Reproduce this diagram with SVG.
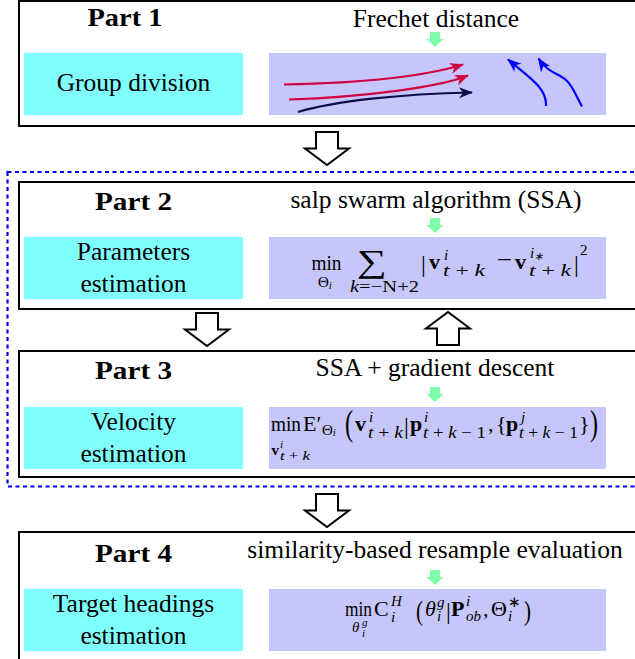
<svg xmlns="http://www.w3.org/2000/svg" width="635" height="659" viewBox="0 0 635 659">
<style>
text{font-family:"Liberation Serif","Times New Roman",Times,serif;fill:#000}
.lbl{font-size:25.5px;text-anchor:middle}
.part{font-size:25px;font-weight:bold;text-anchor:middle}
.box{fill:#fff;stroke:#000;stroke-width:2}
.cy{fill:#80ffff}
.pu{fill:#c6c6fa}
.gr{fill:#80ffaa}
.ha{fill:#fff;stroke:#000;stroke-width:2}
.m{font-size:22px}
.s{font-size:15px}
.sc{font-size:16px}
.ss{font-size:11px}
.big{font-size:36px}
.bar{font-size:24px}
.i{font-style:italic}
.b{font-weight:bold}
.traj{fill:none;stroke-width:2.2}
</style>
<defs>
<path id="garrow" d="M-5,-15 H5 V-8 H8.5 L0,0 L-8.5,-8 H-5 Z"/>
<path id="harrow" d="M-11,-33 H11 V-16.5 H22 L0,0 L-22,-16.5 H-11 Z"/>
<marker id="mr" viewBox="-14 -6 16 12" refX="0" refY="0" markerWidth="16" markerHeight="12" markerUnits="userSpaceOnUse" orient="auto"><path d="M1,0 L-13,-5.5 L-9,0 L-13,5.5 Z" fill="#d0003c"/></marker>
<marker id="mn" viewBox="-14 -6 16 12" refX="0" refY="0" markerWidth="16" markerHeight="12" markerUnits="userSpaceOnUse" orient="auto"><path d="M1,0 L-13,-5.5 L-9,0 L-13,5.5 Z" fill="#0c0c4a"/></marker>
<marker id="mb" viewBox="-14 -6 16 12" refX="0" refY="0" markerWidth="16" markerHeight="12" markerUnits="userSpaceOnUse" orient="auto"><path d="M1,0 L-13,-5.5 L-9,0 L-13,5.5 Z" fill="#0000ff"/></marker>
</defs>

<rect x="7.5" y="172" width="640" height="314.5" fill="none" stroke="#0000ee" stroke-width="2.2" stroke-dasharray="4 3.5"/>

<g id="part1">
<rect class="box" x="19" y="1" width="630" height="125"/>
<text class="part" x="125" y="26" textLength="75" lengthAdjust="spacingAndGlyphs">Part 1</text>
<text class="lbl" x="436" y="26.5">Frechet distance</text>
<use href="#garrow" class="gr" x="435" y="47"/>
<rect class="cy" x="24" y="53" width="219" height="62"/>
<text class="lbl" x="133.5" y="91">Group division</text>
<rect class="pu" x="269" y="53" width="337" height="62"/>
<path class="traj" stroke="#d0003c" d="M284,84.5 C360,83 420,78 463,64.5" marker-end="url(#mr)"/>
<path class="traj" stroke="#d0003c" d="M289,99.5 C365,97 440,87 468,75.5" marker-end="url(#mr)"/>
<path class="traj" stroke="#0c0c4a" d="M298,112 C335,101 400,94 472,92.5" marker-end="url(#mn)"/>
<path class="traj" stroke="#0000ff" d="M546,106 C547,88 530,78 508,59.5" marker-end="url(#mb)"/>
<path class="traj" stroke="#0000ff" d="M582,106.5 C576,96 573,86 566,80 C558,73 548,73 538.5,58.5" marker-end="url(#mb)"/>
</g>

<g id="part2">
<rect class="box" x="19" y="182" width="630" height="127"/>
<text class="part" x="133.5" y="210" textLength="77" lengthAdjust="spacingAndGlyphs">Part 2</text>
<text class="lbl" x="436" y="207.5">salp swarm algorithm (SSA)</text>
<use href="#garrow" class="gr" x="435" y="233"/>
<rect class="cy" x="24" y="237" width="219" height="62"/>
<text class="lbl" x="133.5" y="260">Parameters</text>
<text class="lbl" x="133.5" y="292">estimation</text>
<rect class="pu" x="269" y="237" width="337" height="62"/>
<text class="m" x="311.5" y="270" textLength="30" lengthAdjust="spacingAndGlyphs">min</text>
<text class="s" x="318" y="287">Θ<tspan class="ss i" dy="2">i</tspan></text>
<text x="357" y="272" style="font-size:32px" textLength="30" lengthAdjust="spacingAndGlyphs">∑</text>
<text class="sc" x="350" y="292" textLength="69" lengthAdjust="spacingAndGlyphs"><tspan class="i">k</tspan>=−N+2</text>
<text class="bar" x="421" y="272">|</text>
<text class="m b" x="429" y="269">v</text>
<text class="s i" x="444" y="260">i</text>
<text class="sc" x="443" y="276" textLength="42" lengthAdjust="spacingAndGlyphs"><tspan class="i">t</tspan> + <tspan class="i">k</tspan></text>
<text class="m" x="497" y="267" textLength="15" lengthAdjust="spacingAndGlyphs">−</text>
<text class="m b" x="515" y="269">v</text>
<text class="s i" x="530" y="258">i<tspan class="ss" dy="2">∗</tspan></text>
<text class="sc" x="529" y="276" textLength="42" lengthAdjust="spacingAndGlyphs"><tspan class="i">t</tspan> + <tspan class="i">k</tspan></text>
<text class="bar" x="574" y="272">|</text>
<text class="s" x="580" y="255">2</text>
</g>

<g id="part3">
<rect class="box" x="19" y="351" width="630" height="126"/>
<text class="part" x="133.5" y="379" textLength="77" lengthAdjust="spacingAndGlyphs">Part 3</text>
<text class="lbl" x="435" y="376">SSA + gradient descent</text>
<use href="#garrow" class="gr" x="435" y="402"/>
<rect class="cy" x="24" y="407" width="219" height="62"/>
<text class="lbl" x="133.5" y="430">Velocity</text>
<text class="lbl" x="133.5" y="461.5">estimation</text>
<rect class="pu" x="269" y="407" width="337" height="62"/>
<text class="m" x="271" y="431" textLength="30" lengthAdjust="spacingAndGlyphs">min</text>
<text class="s b" x="271.5" y="455">v</text>
<text class="ss i" x="280" y="448">i</text>
<text x="280" y="460" style="font-size:12px" textLength="30" lengthAdjust="spacingAndGlyphs"><tspan class="i">t</tspan> + <tspan class="i">k</tspan></text>
<text class="m" x="303" y="431">E′</text>
<text class="s" x="322" y="435">Θ<tspan class="ss i" dy="1">i</tspan></text>
<text class="big" x="345" y="435" textLength="8" lengthAdjust="spacingAndGlyphs">(</text>
<text class="m b" x="355" y="431">v</text>
<text class="s i" x="369" y="422">i</text>
<text class="sc" x="368" y="438" textLength="35" lengthAdjust="spacingAndGlyphs"><tspan class="i">t</tspan> + <tspan class="i">k</tspan></text>
<text class="bar" x="404" y="434">|</text>
<text class="m b" x="410" y="431">p</text>
<text class="s i" x="424" y="422">i</text>
<text class="sc" x="423" y="438" textLength="63" lengthAdjust="spacingAndGlyphs"><tspan class="i">t</tspan> + <tspan class="i">k</tspan> − 1</text>
<text class="m" x="488" y="431">,</text>
<text class="m" x="496" y="431">{</text>
<text class="m b" x="506" y="431">p</text>
<text class="s i" x="521" y="422">j</text>
<text class="sc" x="519" y="438" textLength="59" lengthAdjust="spacingAndGlyphs"><tspan class="i">t</tspan> + <tspan class="i">k</tspan> − 1</text>
<text class="m" x="579" y="431">}</text>
<text class="big" x="590" y="435" textLength="8" lengthAdjust="spacingAndGlyphs">)</text>
</g>

<g id="part4">
<rect class="box" x="19" y="532" width="630" height="140"/>
<text class="part" x="133.5" y="561.5" textLength="77" lengthAdjust="spacingAndGlyphs">Part 4</text>
<text class="lbl" x="435" y="558">similarity-based resample evaluation</text>
<use href="#garrow" class="gr" x="435" y="585"/>
<rect class="cy" x="24" y="589" width="219" height="62"/>
<text class="lbl" x="133.5" y="611.5">Target headings</text>
<text class="lbl" x="133.5" y="644">estimation</text>
<rect class="pu" x="269" y="589" width="337" height="62"/>
<text class="m" x="345" y="616" textLength="27" lengthAdjust="spacingAndGlyphs">min</text>
<text class="s i" x="352" y="632">θ</text>
<text class="ss i" x="362" y="626">g</text>
<text class="ss i" x="362" y="637">i</text>
<text class="m" x="374" y="616">C</text>
<text class="s i" x="391" y="606">H</text>
<text class="s i" x="391" y="622">i</text>
<text class="big" x="416" y="620" style="font-size:28px" textLength="7" lengthAdjust="spacingAndGlyphs">(</text>
<text class="m i" x="425" y="616">θ</text>
<text class="s i" x="437" y="607">g</text>
<text class="s i" x="437" y="621">i</text>
<text class="bar" x="446" y="619">|</text>
<text class="m b" x="451" y="616">P</text>
<text class="s i" x="466" y="606">i</text>
<text class="s i" x="466" y="621">ob</text>
<text class="m" x="483" y="616">,</text>
<text class="m" x="491" y="616">Θ</text>
<text class="s" x="508" y="607">∗</text>
<text class="s i" x="508" y="621">i</text>
<text class="big" x="524" y="620" style="font-size:28px" textLength="7" lengthAdjust="spacingAndGlyphs">)</text>
</g>

<g id="connectors">
<use href="#harrow" class="ha" x="327" y="165"/>
<use href="#harrow" class="ha" x="207" y="346"/>
<use href="#harrow" class="ha" transform="translate(448,312) rotate(180)"/>
<use href="#harrow" class="ha" x="327" y="527"/>
</g>
</svg>
